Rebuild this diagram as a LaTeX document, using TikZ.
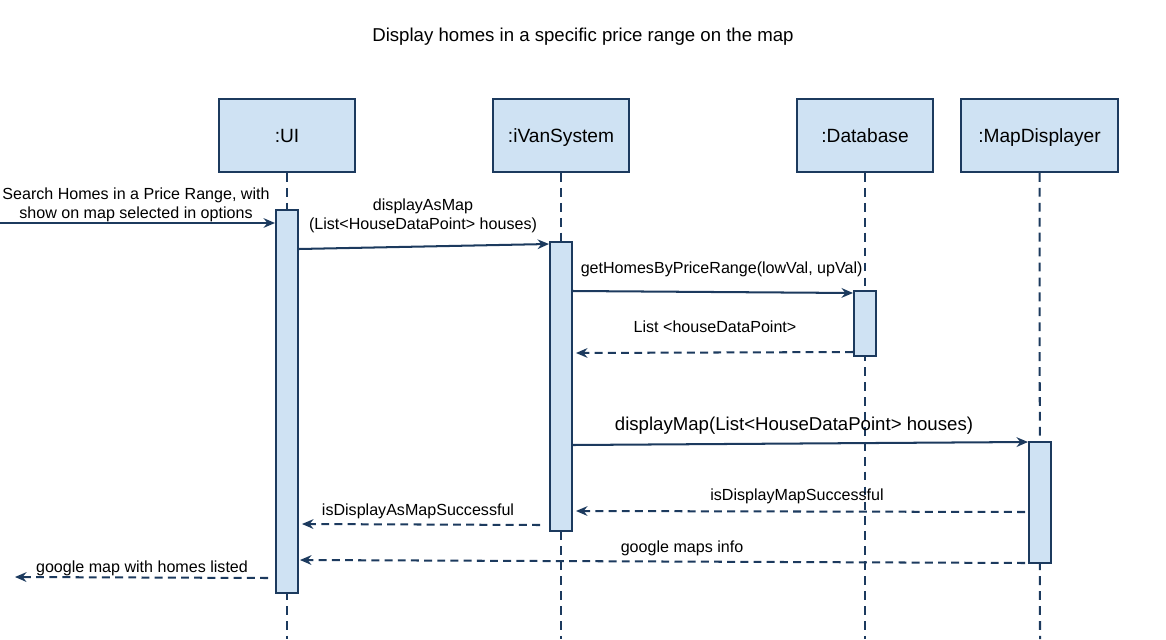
\documentclass[tikz,border=0pt]{standalone}
\usepackage{fontspec}
\setmainfont{Liberation Sans}
\usetikzlibrary{arrows.meta}
\definecolor{boxfill}{RGB}{207,226,243}
\definecolor{navy}{RGB}{28,58,94}

\begin{document}
\begin{tikzpicture}[
    x=0.02cm, y=-0.02cm,
    line width=1.15pt,
    actor/.style={rectangle, draw=navy, fill=boxfill, minimum width=2.72cm, minimum height=1.46cm, text depth=0pt, font=\fontsize{10.9}{13}\selectfont},
    activation/.style={rectangle, draw=navy, fill=boxfill, minimum width=0.44cm, inner sep=0pt},
    lifeline/.style={draw=navy, dash pattern=on 5pt off 3.5pt},
    call/.style={draw=navy, -{Stealth[length=6.5pt,width=5.5pt]}},
    reply/.style={draw=navy, dash pattern=on 4.5pt off 3pt, -{Stealth[length=6.5pt,width=5.5pt]}},
    msg/.style={font=\fontsize{9.15}{10.5}\selectfont, align=center, inner sep=1pt}
]
    \useasboundingbox (0,0) rectangle (1166,639);

    % Titel
    \node[font=\fontsize{10.6}{13}\selectfont] (title) at (583,37) {Display homes in a specific price range on the map};

    % Objekte
    \node[actor] (ui) at (287,135.5) {:UI};
    \node[actor] (sys) at (561,135.5) {:iVanSystem};
    \node[actor] (db) at (865,135.5) {:Database};
    \node[actor, minimum width=3.14cm] (map) at (1039.5,135.5) {:MapDisplayer};

    % Lebenslinien
    \coordinate (uiend) at (287,639);
    \coordinate (sysend) at (561,639);
    \coordinate (dbend) at (865,639);
    \coordinate (mapend) at (1040,639);
    \draw[lifeline] (ui.south) -- (uiend);
    \draw[lifeline] (sys.south) -- (sysend);
    \draw[lifeline] (db.south) -- (dbend);
    \draw[lifeline] (map.south) -- (mapend);

    % Aktivierungen
    \node[activation, minimum height=7.66cm] (uiact) at (287,401.5) {};
    \node[activation, minimum height=5.78cm] (sysact) at (561,386.5) {};
    \node[activation, minimum height=1.3cm] (dbact) at (865,323.5) {};
    \node[activation, minimum height=2.42cm] (mapact) at (1040,502.5) {};

    % Nachrichten
    \coordinate (start) at (0,223);
    \draw[call] (start) -- (uiact.west |- 0,223);
    \node[msg] (search) at (136,205) {Search Homes in a Price Range, with\\show on map selected in options};

    \draw[call] (uiact.east |- 0,249) -- (sysact.west |- 0,244);
    \node[msg] (showmap) at (423,216) {displayAsMap\\(List<HouseDataPoint> houses)};

    \draw[call] (sysact.east |- 0,291) -- (dbact.west |- 0,293);
    \node[msg, anchor=west] (gethomes) at (578,269) {getHomesByPriceRange(lowVal, upVal)};

    \draw[reply] (dbact.west |- 0,352) -- (576,353);
    \node[msg] (houselist) at (715,327) {List <houseDataPoint>};

    \draw[call] (sysact.east |- 0,445) -- (mapact.west |- 0,442);
    \node[msg, font=\fontsize{10.6}{12}\selectfont] (displaymap) at (794,426) {displayMap(List<HouseDataPoint> houses)};

    \draw[reply] (1025,512) -- (576,511);
    \node[msg] (mapok) at (797,496) {isDisplayMapSuccessful};

    \draw[reply] (540,525) -- (302,524);
    \node[msg] (showok) at (418,511) {isDisplayAsMapSuccessful};

    \draw[reply] (1025,563) -- (300,560);
    \node[msg] (mapsinfo) at (682,548) {google maps info};

    \coordinate (finish) at (15,577);
    \draw[reply] (268,578) -- (finish);
    \node[msg] (result) at (142,568) {google map with homes listed};
\end{tikzpicture}
\end{document}
